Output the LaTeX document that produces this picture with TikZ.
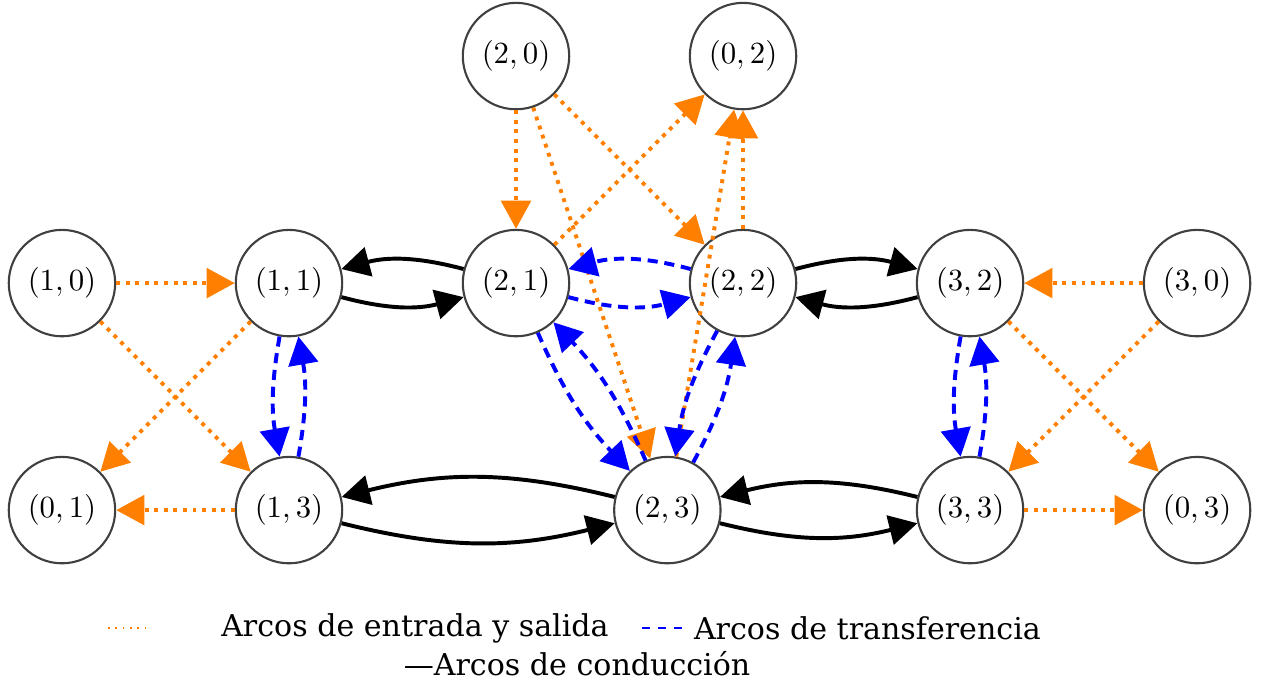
\documentclass[tikz,border=0pt]{standalone}
\usepackage{fontspec}
\setmainfont{DejaVu Serif}
\usetikzlibrary{arrows.meta}
\begin{document}
\begin{tikzpicture}
[x=2.8375cm,y=2.8375cm,
  stateDecorate/.style={shape=circle,minimum size=1.33cm,inner sep=0pt,draw=black!75,line width=0.75pt,font=\fontsize{10.7}{12}\selectfont},%
  tipDecorate/.style={-{Triangle[length=10pt,width=10.5pt]}},%
  inoutDecorate/.style={tipDecorate,orange,line width=1.4pt,dotted},%
  transferDecorate/.style={tipDecorate,blue,line width=1.4pt,dash pattern=on 3.6pt off 2.4pt},%
  driveDecorate/.style={tipDecorate,black,line width=1.4pt},%
  legendDecorate/.style={font=\fontsize{10.7}{13}\selectfont,inner sep=0pt}]
\useasboundingbox (-0.273,-0.753) rectangle (5.286,2.247);
%% states of the network
\node (s20) at (2,2) [stateDecorate] {$(2,0)$};
\node (s02) at (3,2) [stateDecorate] {$(0,2)$};
\node (s10) at (0,1) [stateDecorate] {$(1,0)$};
\node (s11) at (1,1) [stateDecorate] {$(1,1)$};
\node (s21) at (2,1) [stateDecorate] {$(2,1)$};
\node (s22) at (3,1) [stateDecorate] {$(2,2)$};
\node (s32) at (4,1) [stateDecorate] {$(3,2)$};
\node (s30) at (5,1) [stateDecorate] {$(3,0)$};
\node (s01) at (0,0) [stateDecorate] {$(0,1)$};
\node (s13) at (1,0) [stateDecorate] {$(1,3)$};
\node (s23) at (8/3,0) [stateDecorate] {$(2,3)$};
\node (s33) at (4,0) [stateDecorate] {$(3,3)$};
\node (s03) at (5,0) [stateDecorate] {$(0,3)$};
%% entry and exit arcs
\draw [inoutDecorate] (s10) -- (s11);
\draw [inoutDecorate] (s10) -- (s13);
\draw [inoutDecorate] (s11) -- (s01);
\draw [inoutDecorate] (s13) -- (s01);
\draw [inoutDecorate] (s20) -- (s21);
\draw [inoutDecorate] (s20) -- (s22);
\draw [inoutDecorate] (s20) -- (s23);
\draw [inoutDecorate] (s21) -- (s02);
\draw [inoutDecorate] (s22) -- (s02);
\draw [inoutDecorate] (s23) -- (s02);
\draw [inoutDecorate] (s30) -- (s32);
\draw [inoutDecorate] (s30) -- (s33);
\draw [inoutDecorate] (s32) -- (s03);
\draw [inoutDecorate] (s33) -- (s03);
%% transfer arcs
\draw [transferDecorate] (s21) to[bend right=15] (s22);
\draw [transferDecorate] (s22) to[bend right=15] (s21);
\draw [transferDecorate] (s11) to[bend right=10] (s13);
\draw [transferDecorate] (s13) to[bend right=10] (s11);
\draw [transferDecorate] (s32) to[bend right=10] (s33);
\draw [transferDecorate] (s33) to[bend right=10] (s32);
\draw [transferDecorate] (s21) to[bend right=10] (s23);
\draw [transferDecorate] (s23) to[bend right=10] (s21);
\draw [transferDecorate] (s22) to[bend right=10] (s23);
\draw [transferDecorate] (s23) to[bend right=10] (s22);
%% conduction arcs
\draw [driveDecorate] (s11) to[bend right=15] (s21);
\draw [driveDecorate] (s21) to[bend right=15] (s11);
\draw [driveDecorate] (s22) to[bend left=15] (s32);
\draw [driveDecorate] (s32) to[bend left=15] (s22);
\draw [driveDecorate] (s13) to[bend right=14] (s23);
\draw [driveDecorate] (s23) to[bend right=14] (s13);
\draw [driveDecorate] (s23) to[bend right=14] (s33);
\draw [driveDecorate] (s33) to[bend right=14] (s23);
%% legend
\coordinate (lgA) at (0.203,-0.52);
\coordinate (lgB) at (0.379,-0.52);
\draw [orange,dotted,line width=0.6pt] (lgA) -- (lgB);
\node (lgInout) at (1.555,-0.52) [legendDecorate] {Arcos de entrada y salida};
\coordinate (lgC) at (2.555,-0.52);
\coordinate (lgD) at (2.736,-0.52);
\draw [blue,line width=0.6pt,dash pattern=on 3pt off 2.6pt] (lgC) -- (lgD);
\node (lgTransfer) at (3.548,-0.52) [legendDecorate] {Arcos de transferencia};
\node (lgDrive) at (2.269,-0.678) [legendDecorate] {—Arcos de conducción};
\end{tikzpicture}
\end{document}
